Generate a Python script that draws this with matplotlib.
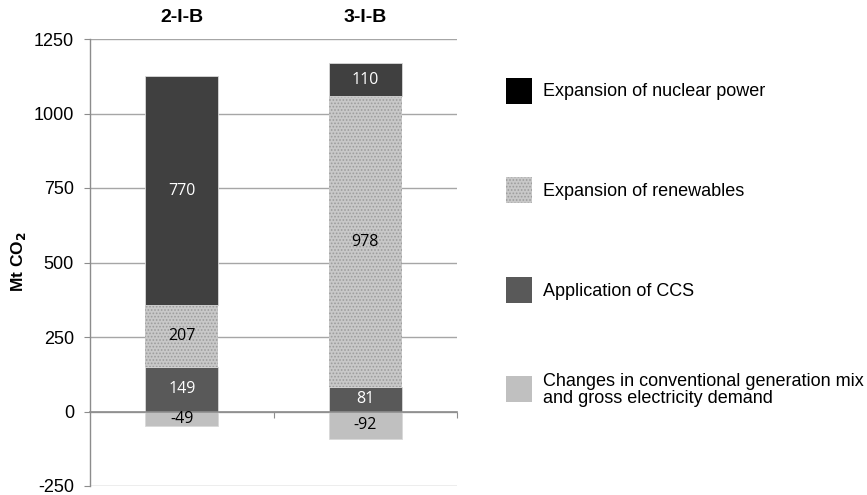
import numpy as np
import matplotlib
matplotlib.use("Agg")
import matplotlib.pyplot as plt
from matplotlib.patches import Rectangle
import matplotlib.transforms as mtransforms

plt.rcParams['font.family'] = ['Liberation Sans', 'DejaVu Sans']
plt.rcParams['hatch.linewidth'] = 0.8

# data (Mt CO2)
scenarios = ['2-I-B', '3-I-B']
changes_conv = [-49, -92]
ccs = [149, 81]
renewables = [207, 978]
nuclear = [770, 110]

legend_labels = ['Expansion of nuclear power', 'Expansion of renewables',
                 'Application of CCS',
                 'Changes in conventional generation mix\nand gross electricity demand']
yticks = [-250, 0, 250, 500, 750, 1000, 1250]

W, H = 867, 495
fig = plt.figure(figsize=(W / 100, H / 100), dpi=100)
ax = fig.add_axes([90 / W, 1 - 486 / H, (457 - 90) / W, (486 - 39) / H])

x = np.arange(len(scenarios))
w = 0.4
edge = '#d9d9d9'
c_nuc, c_ren, c_ccs, c_conv = '#404040', '#c8c8c8', '#595959', '#c0c0c0'

ax.bar(x, changes_conv, w, color=c_conv, edgecolor=edge, linewidth=0.6, zorder=3)
ax.bar(x, ccs, w, color=c_ccs, edgecolor=edge, linewidth=0.6, zorder=3)
bottom2 = np.array(ccs)
ax.bar(x, renewables, w, bottom=bottom2, color=c_ren, edgecolor='#9c9c9c',
       linewidth=0, hatch='.....', zorder=3)
bottom3 = bottom2 + np.array(renewables)
ax.bar(x, nuclear, w, bottom=bottom3, color=c_nuc, edgecolor=edge, linewidth=0.6, zorder=3)

lab_kw = dict(ha='center', va='center', fontsize=11.5, family=['Open Sans', 'DejaVu Sans'], zorder=5)
for i in range(len(x)):
    ax.text(x[i], changes_conv[i] / 2, str(changes_conv[i]), color='black', **lab_kw)
    ax.text(x[i], ccs[i] / 2, str(ccs[i]), color='white', **lab_kw)
    ax.text(x[i], bottom2[i] + renewables[i] / 2, str(renewables[i]), color='black', **lab_kw)
    ax.text(x[i], bottom3[i] + nuclear[i] / 2, str(nuclear[i]), color='white', **lab_kw)

ax.set_ylim(-250, 1250)
ax.set_xlim(-0.5, 1.5)
ax.set_yticks(yticks)
ax.set_yticklabels([str(t) for t in yticks], fontsize=13)
ax.yaxis.grid(True, color='#a6a6a6', linewidth=1.0, zorder=0)
ax.set_axisbelow(True)

for s in ['top', 'right']:
    ax.spines[s].set_visible(False)
ax.spines['left'].set_color('#8c8c8c')
ax.spines['left'].set_linewidth(1.0)
ax.spines['bottom'].set_position(('data', 0))
ax.spines['bottom'].set_color('#8c8c8c')
ax.spines['bottom'].set_linewidth(1.2)
ax.spines['bottom'].set_zorder(4)
ax.set_xticks([0.5, 1.5])
ax.set_xticklabels(['', ''])
ax.tick_params(axis='x', length=4, color='#8c8c8c', direction='out')
ax.tick_params(axis='y', length=4, color='#8c8c8c', pad=7.5)

fig.text(18 / W, 1 - 262 / H, r'Mt CO$_\mathbf{2}$', rotation=90, ha='center', va='center',
         fontsize=12.5, fontweight='bold')

trans = mtransforms.blended_transform_factory(ax.transData, fig.transFigure)
for i in range(len(x)):
    ax.text(x[i], 1 - 17 / H, scenarios[i], transform=trans, ha='center', va='center',
            fontsize=14, fontweight='bold')

# legend, drawn by hand to keep the wide row spacing
swatches = [dict(facecolor='black'),
            dict(facecolor=c_ren, edgecolor='#9c9c9c', linewidth=0, hatch='.....'),
            dict(facecolor=c_ccs),
            dict(facecolor=c_conv)]
row_y = [91, 190, 290, 389]
for sw, lab, yc in zip(swatches, legend_labels, row_y):
    kw = dict(edgecolor='none')
    kw.update(sw)
    fig.add_artist(Rectangle((506 / W, 1 - (yc + 13) / H), 26 / W, 26 / H,
                             transform=fig.transFigure, **kw))
    fig.text(543 / W, 1 - (yc + 1) / H, lab, ha='left', va='center', fontsize=13,
             linespacing=1.0)

fig.savefig('out.png', dpi=100)
